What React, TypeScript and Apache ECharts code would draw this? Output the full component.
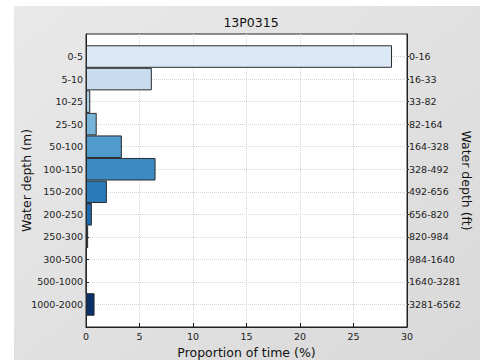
import React, { useEffect, useRef } from "react";
import * as echarts from "echarts";

const depthM = ["0-5", "5-10", "10-25", "25-50", "50-100", "100-150", "150-200", "200-250", "250-300", "300-500", "500-1000", "1000-2000"];
const depthFt = ["0-16", "16-33", "33-82", "82-164", "164-328", "328-492", "492-656", "656-820", "820-984", "984-1640", "1640-3281", "3281-6562"];
const proportion = [28.6, 6.15, 0.4, 1.0, 3.35, 6.5, 1.95, 0.55, 0.2, 0.06, 0.06, 0.8];
const barColors = ["#dbe9f6", "#c8dcf0", "#abcfe6", "#78b4d9", "#4f9bcb", "#3b8bc2", "#2a7aba", "#1d6aaf", "#115ba3", "#0b4d93", "#084083", "#08306b"];
const xTicks = [0, 5, 10, 15, 20, 25, 30];

export default function App() {
  const ref = useRef<HTMLDivElement>(null);
  useEffect(() => {
    if (!ref.current) return;
    const chart = echarts.init(ref.current, null, { renderer: "svg" });
    const catsM = ["", ...depthM, ""];
    const catsFt = ["", ...depthFt, ""];
    const data: any[] = [null, ...proportion.map((v, i) => ({ value: v, itemStyle: { color: barColors[i] } })), null];
    const inner = (idx: number) => idx > 0 && idx < catsM.length - 1;
    const font = "DejaVu Sans";
    chart.setOption({
      animation: false,
      backgroundColor: "#ffffff",
      graphic: [
        {
          type: "rect",
          shape: { x: 14, y: 6, width: 466, height: 354 },
          style: {
            fill: new echarts.graphic.LinearGradient(0, 0, 1, 1, [
              { offset: 0, color: "#e9e9e9" },
              { offset: 1, color: "#d9d9d9" },
            ]),
          },
          z: -10,
          silent: true,
        },
      ],
      title: {
        text: "13P0315",
        left: 246,
        textAlign: "center",
        top: 11,
        textStyle: { fontFamily: font, fontSize: 12.5, fontWeight: "normal", color: "#111" },
      },
      grid: {
        left: 86,
        right: 73,
        top: 34,
        bottom: 33,
        outerBoundsMode: "none",
        containLabel: false,
        show: true,
        backgroundColor: "#ffffff",
        borderColor: "#222",
        borderWidth: 1,
      },
      xAxis: {
        type: "value",
        min: 0,
        max: 30,
        interval: 5,
        name: "Proportion of time (%)",
        nameLocation: "middle",
        nameGap: 15,
        nameTextStyle: { fontFamily: font, fontSize: 12.5, color: "#111" },
        axisLine: { show: true, lineStyle: { color: "#222" } },
        axisTick: { show: true, inside: true, length: 4, lineStyle: { color: "#222" } },
        axisLabel: {
          fontFamily: font,
          fontSize: 9.5,
          color: "#222",
          margin: 4,
          formatter: (v: number) => (xTicks.includes(v) ? String(v) : ""),
        },
        splitLine: { show: true, lineStyle: { color: "#d4d4d4", type: "dotted" } },
      },
      yAxis: [
        {
          type: "category",
          data: catsM,
          inverse: true,
          boundaryGap: false,
          name: "Water depth (m)",
          nameLocation: "middle",
          nameGap: 53,
          nameMoveOverlap: false,
          nameTextStyle: { fontFamily: font, fontSize: 12.5, color: "#111" },
          axisLine: { show: true, lineStyle: { color: "#222" } },
          axisTick: { show: true, inside: true, length: 3, interval: (i: number) => inner(i), lineStyle: { color: "#222" } },
          axisLabel: { fontFamily: font, fontSize: 9.5, color: "#222", margin: 3, interval: (i: number) => inner(i) },
          splitLine: { show: true, interval: (i: number) => inner(i), lineStyle: { color: "#d4d4d4", type: "dotted" } },
        },
        {
          type: "category",
          data: catsFt,
          inverse: true,
          boundaryGap: false,
          position: "right",
          name: "Water depth (ft)",
          nameLocation: "middle",
          nameGap: 53,
          nameMoveOverlap: false,
          nameRotate: -90,
          nameTextStyle: { fontFamily: font, fontSize: 12.5, color: "#111" },
          axisLine: { show: true, lineStyle: { color: "#222" } },
          axisTick: { show: true, inside: false, length: 2, interval: (i: number) => inner(i), lineStyle: { color: "#222" } },
          axisLabel: { fontFamily: font, fontSize: 9.5, color: "#222", margin: 2, interval: (i: number) => inner(i) },
          splitLine: { show: false },
        },
      ],
      series: [
        {
          type: "bar",
          yAxisIndex: 0,
          data,
          barWidth: "100%",
          barCategoryGap: 0,
          itemStyle: { borderColor: "#2a2a2a", borderWidth: 1 },
        },
      ],
    });
    return () => chart.dispose();
  }, []);
  return <div ref={ref} style={{ position: "fixed", left: 0, top: 0, width: 480, height: 360 }} />;
}
